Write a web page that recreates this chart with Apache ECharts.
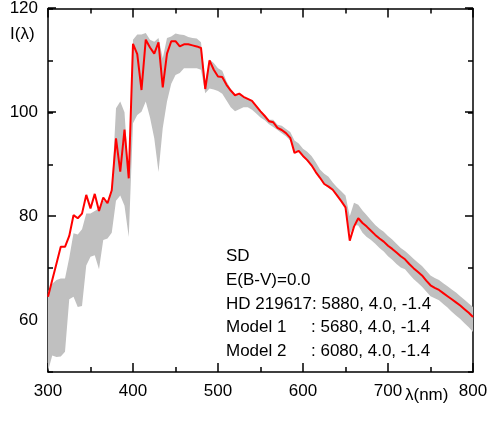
<!DOCTYPE html>
<html>
<head>
<meta charset="utf-8">
<script src="https://cdn.jsdelivr.net/npm/echarts@6/dist/echarts.min.js"></script>
<style>
  html, body { margin: 0; padding: 0; background: #fff; }
  #chart { width: 491px; height: 421px; }
</style>
</head>
<body>
<div id="chart"></div>
<script>
// wavelength grid (nm)
const wavelength = [
  300, 305, 310, 315, 320, 325, 330, 335, 340, 345, 350, 355, 360, 365, 370, 375, 380, 385, 390, 395,
  400, 405, 410, 415, 420, 425, 430, 435, 440, 445, 450, 455, 460, 465, 470, 475, 480, 485, 490, 495,
  500, 505, 510, 515, 520, 525, 530, 535, 540, 545, 550, 555, 560, 565, 570, 575, 580, 585, 590, 595,
  600, 605, 610, 615, 620, 625, 630, 635, 640, 645, 650, 655, 660, 665, 670, 675, 680, 685, 690, 695,
  700, 705, 710, 715, 720, 725, 730, 735, 740, 745, 750, 755, 760, 765, 770, 775, 780, 785, 790, 795,
  800
];

// HD 219617 observed flux (red line)
const observed = [
  64.5, 67.7, 70.9, 74.1, 74.1, 76.2, 80.2, 79.6, 80.5, 84.1, 81.5, 84.3, 81.0, 83.6, 82.5, 85.0, 95.0, 88.6, 96.7, 87.3,
  113.2, 111.2, 104.3, 114.0, 112.5, 111.3, 113.5, 104.8, 111.3, 113.7, 113.7, 112.7, 113.1, 113.1, 112.9, 112.7, 112.4, 104.5, 110.0, 108.2,
  106.9, 106.8, 105.3, 104.2, 103.3, 103.6, 103.0, 102.6, 102.2, 101.2, 100.2, 99.3, 98.3, 98.1, 97.0, 96.6, 96.0, 95.1, 92.2, 92.6,
  91.6, 90.8, 89.8, 88.5, 87.4, 86.2, 85.7, 85.1, 84.0, 82.9, 81.7, 75.3, 78.0, 79.6, 78.7, 78.0, 77.2, 76.4, 75.7, 75.1,
  74.3, 73.7, 73.0, 72.3, 71.7, 70.8, 70.0, 69.3, 68.6, 67.6, 66.7, 66.2, 65.8, 65.2, 64.6, 64.0, 63.4, 62.8, 62.1, 61.4,
  60.6
];

// model band, lower edge
const bandLower = [
  50.2, 53.2, 52.9, 53.0, 53.9, 64.0, 64.5, 62.5, 62.7, 70.5, 72.2, 72.5, 69.8, 75.4, 75.7, 76.8, 83.0, 84.0, 82.0, 76.0,
  97.9, 99.5, 100.1, 102.1, 99.0, 95.0, 88.5, 97.0, 102.1, 105.5, 107.2, 107.6, 108.5, 108.5, 108.5, 108.5, 108.2, 103.7, 104.6, 104.4,
  104.1, 103.6, 102.3, 101.0, 100.2, 100.6, 101.0, 101.0, 100.5, 99.8, 99.0, 98.5, 97.7, 97.2, 96.6, 96.0, 95.4, 94.6, 92.5, 92.3,
  91.4, 90.6, 89.6, 88.4, 87.3, 86.1, 85.5, 84.9, 83.8, 82.8, 81.5, 76.5, 78.3, 78.2, 76.8, 76.0, 75.4, 74.7, 73.9, 73.2,
  72.3, 71.6, 70.8, 70.1, 69.8, 68.8, 67.9, 67.2, 66.4, 65.5, 64.6, 64.2, 63.8, 63.1, 62.4, 61.6, 60.9, 60.2, 59.4, 58.6,
  57.7
];

// model band, upper edge
const bandUpper = [
  65.5, 67.0, 67.7, 68.0, 68.0, 72.0, 76.7, 76.5, 77.5, 80.5, 80.5, 81.0, 81.5, 83.0, 83.0, 85.0, 100.8, 102.1, 100.0, 87.5,
  114.0, 115.0, 115.0, 115.3, 114.0, 113.6, 114.3, 110.4, 114.3, 114.6, 115.2, 115.0, 114.9, 114.5, 114.3, 114.2, 113.5, 105.9, 110.2, 109.5,
  108.5, 108.0, 106.0, 104.5, 103.5, 103.6, 103.0, 102.6, 102.2, 101.3, 100.4, 99.5, 98.6, 98.6, 97.6, 97.4, 96.8, 96.2, 94.6, 94.0,
  93.0, 92.4, 91.6, 90.4, 89.0, 88.2, 87.6, 86.5, 85.6, 84.8, 84.0, 80.0, 82.6, 82.2, 81.1, 80.2, 79.2, 78.3, 77.6, 77.0,
  76.2, 75.5, 74.7, 73.9, 73.3, 72.6, 71.8, 71.1, 70.4, 69.5, 68.6, 68.1, 67.7, 67.1, 66.5, 65.9, 65.3, 64.6, 63.9, 63.2,
  62.5
];

const noteLines = ['SD', 'E(B-V)=0.0', 'HD 219617: 5880, 4.0, -1.4', 'Model 1', 'Model 2'];
const noteParams = ['', '', '', ': 5680, 4.0, -1.4', ': 6080, 4.0, -1.4'];

const FONT = '"Liberation Sans", Arial, sans-serif';
const black = '#000';

const chart = echarts.init(document.getElementById('chart'), null, { renderer: 'canvas' });

const observedData = wavelength.map((w, i) => [w, observed[i]]);
const bandData = wavelength.map((w, i) => [w, bandLower[i], bandUpper[i]]);

function bandPolygon(params, api) {
  if (params.dataIndex !== 0) return null;
  const pts = [];
  for (let i = 0; i < wavelength.length; i++) pts.push(api.coord([wavelength[i], bandUpper[i]]));
  for (let i = wavelength.length - 1; i >= 0; i--) pts.push(api.coord([wavelength[i], bandLower[i]]));
  return { type: 'polygon', shape: { points: pts }, style: { fill: '#c0c0c0' } };
}

const xCommon = {
  type: 'value', min: 300, max: 800, interval: 100,
  axisLine: { show: true, lineStyle: { color: black, width: 1.5 } },
  axisTick: { show: true, inside: true, length: 9, lineStyle: { color: black, width: 1.5 } },
  minorTick: { show: true, splitNumber: 2, length: 5, lineStyle: { color: black, width: 1.5 } },
  splitLine: { show: false }
};

const yCommon = {
  type: 'value', min: 50, max: 120, interval: 10,
  axisLine: { show: true, lineStyle: { color: black, width: 1.5 } },
  axisTick: { show: true, inside: true, length: 5, lineStyle: { color: black, width: 1.5 } },
  splitLine: { show: false }
};

// longer ticks at labelled values (60, 80, 100, 120), grid 1 spans 60..120 only
const yMajor = {
  type: 'value', gridIndex: 1, min: 60, max: 120, interval: 20,
  axisLine: { show: false },
  axisTick: { show: true, inside: true, length: 8, lineStyle: { color: black, width: 1.5 } },
  axisLabel: { show: false },
  splitLine: { show: false }
};

const graphics = [
  { type: 'text', left: 10, top: 26, style: { text: 'I(λ)', font: '17px ' + FONT, fill: black } },
  { type: 'text', left: 405, top: 387, style: { text: 'λ(nm)', font: '17px ' + FONT, fill: black } }
];
noteLines.forEach((t, i) => {
  const y = 248 + i * 23.7;
  graphics.push({ type: 'text', left: 226, top: y, style: { text: t, font: '17px ' + FONT, fill: black } });
  if (noteParams[i]) {
    graphics.push({ type: 'text', left: 311, top: y, style: { text: noteParams[i], font: '17px ' + FONT, fill: black } });
  }
});

chart.setOption({
  backgroundColor: '#fff',
  animation: false,
  grid: [
    { left: 48, right: 18, top: 8, bottom: 49 },
    { left: 48, right: 18, top: 8, bottom: 101.8 }
  ],
  xAxis: [
    Object.assign({}, xCommon, {
      position: 'bottom',
      axisLabel: { show: true, color: black, fontSize: 17, fontFamily: FONT, margin: 11 }
    }),
    Object.assign({}, xCommon, { position: 'top', axisLabel: { show: false } }),
    { type: 'value', gridIndex: 1, min: 300, max: 800, show: false }
  ],
  yAxis: [
    Object.assign({}, yCommon, {
      position: 'left',
      axisLabel: {
        show: true, color: black, fontSize: 17, fontFamily: FONT, margin: 10,
        formatter: v => (v % 20 === 0 ? String(v) : '')
      }
    }),
    Object.assign({}, yCommon, { position: 'right', axisLabel: { show: false } }),
    Object.assign({}, yMajor, { position: 'left' }),
    Object.assign({}, yMajor, { position: 'right' })
  ],
  series: [
    {
      name: 'Model 1 / Model 2',
      type: 'custom',
      xAxisIndex: 0, yAxisIndex: 0,
      renderItem: bandPolygon,
      encode: { x: 0, y: [1, 2] },
      data: bandData,
      z: 1
    },
    {
      name: 'HD 219617',
      type: 'line',
      xAxisIndex: 0, yAxisIndex: 0,
      data: observedData,
      showSymbol: false,
      symbol: 'none',
      lineStyle: { color: '#ff0000', width: 2 },
      z: 2
    }
  ],
  graphic: graphics
});
</script>
</body>
</html>
